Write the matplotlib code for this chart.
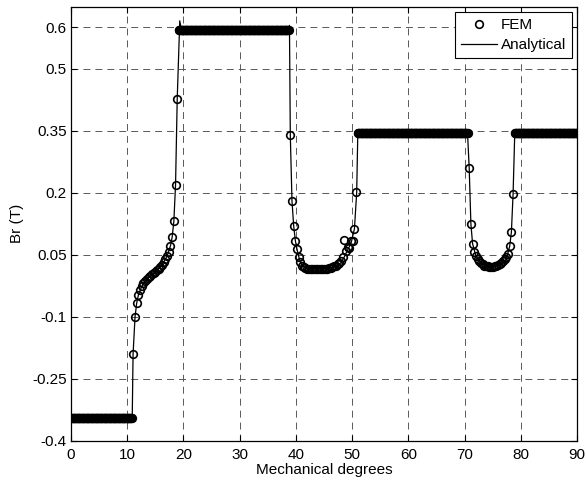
import numpy as np
import matplotlib
matplotlib.use("Agg")
import matplotlib.pyplot as plt

plt.rcParams['font.family'] = ['Liberation Sans', 'DejaVu Sans']
plt.rcParams['font.size'] = 11
plt.rcParams['lines.scale_dashes'] = False

# FEM plateaus are flat at the read level (dense samples)
plateau_start = [0.0, 19.2, 51.0, 78.9]
plateau_end = [10.8, 38.7, 70.5, 90.0]
plateau_level = [-0.345, 0.595, 0.345, 0.345]

# FEM transition points (deg, Br)
trans_deg = [11.1, 11.4, 11.7, 12.0, 12.3, 12.6, 12.9, 13.2, 13.5, 13.8, 14.1, 14.4,
             14.7, 15.0, 15.3, 15.6, 15.9, 16.2, 16.5, 16.8, 17.1, 17.4, 17.7, 18.0,
             18.3, 18.6, 18.9,
             39.0, 39.3, 39.6, 39.9, 40.2, 40.5, 40.8, 41.1, 41.4, 41.7, 42.0, 42.3,
             42.6, 42.9, 43.2, 43.5, 43.8, 44.1, 44.4, 44.7, 45.0, 45.3, 45.6, 45.9,
             46.2, 46.5, 46.8, 47.1, 47.4, 47.7, 48.0, 48.3, 48.6, 48.9, 49.2, 49.5,
             49.8, 50.1, 50.4, 50.7,
             70.8, 71.1, 71.4, 71.7, 72.0, 72.3, 72.6, 72.9, 73.2, 73.5, 73.8, 74.1,
             74.4, 74.7, 75.0, 75.3, 75.6, 75.9, 76.2, 76.5, 76.8, 77.1, 77.4, 77.7,
             78.0, 78.3, 78.6]
trans_br = [-0.19, -0.10, -0.066, -0.047, -0.035, -0.026, -0.019, -0.013, -0.008, -0.004, 0.0, 0.003,
            0.006, 0.009, 0.013, 0.017, 0.021, 0.026, 0.032, 0.039, 0.047, 0.058, 0.072, 0.093,
            0.131, 0.219, 0.428,
            0.339, 0.18, 0.12, 0.084, 0.063, 0.046, 0.032, 0.024, 0.020, 0.018, 0.017, 0.016,
            0.016, 0.016, 0.016, 0.016, 0.016, 0.016, 0.016, 0.016, 0.016, 0.017, 0.017, 0.018,
            0.019, 0.020, 0.022, 0.024, 0.027, 0.031, 0.036, 0.044, 0.085, 0.060, 0.070, 0.066,
            0.083, 0.083, 0.113, 0.201,
            0.26, 0.125, 0.077, 0.057, 0.047, 0.040, 0.034, 0.030, 0.027, 0.024, 0.023, 0.022,
            0.021, 0.021, 0.021, 0.022, 0.023, 0.025, 0.027, 0.030, 0.035, 0.040, 0.046, 0.053,
            0.071, 0.105, 0.197]

# Analytical curve vertices
ana_deg = [0, 10.9, 11.05, 11.4, 11.7, 12.0, 12.6, 13.5, 14.4, 15.3, 16.2, 17.1, 17.7,
           18.0, 18.3, 18.6, 18.9, 19.35, 19.6, 38.6, 38.85, 39.0, 39.3, 39.6, 39.9, 40.2,
           40.5, 40.8, 41.1, 41.7, 44.0, 46.5, 47.4, 48.0, 48.6, 49.2, 49.8, 50.4, 50.8,
           51.0, 70.5, 70.8, 71.1, 71.4, 72.0, 72.9, 74.7, 76.5, 77.4, 78.0, 78.3, 78.6,
           78.9, 90]
ana_br = [-0.345, -0.345, -0.19, -0.10, -0.066, -0.047, -0.026, -0.008, 0.003, 0.013, 0.026,
          0.047, 0.072, 0.093, 0.131, 0.219, 0.428, 0.616, 0.597, 0.597, 0.605, 0.339, 0.18,
          0.12, 0.084, 0.063, 0.046, 0.032, 0.024, 0.018, 0.016, 0.019, 0.024, 0.031, 0.045,
          0.062, 0.078, 0.113, 0.201, 0.345, 0.345, 0.26, 0.125, 0.077, 0.047, 0.030, 0.021,
          0.027, 0.040, 0.071, 0.105, 0.197, 0.345, 0.345]

yticks = [-0.4, -0.25, -0.1, 0.05, 0.2, 0.35, 0.5, 0.6]
ytick_labels = ['-0.4', '-0.25', '-0.1', '0.05', '0.2', '0.35', '0.5', '0.6']
xticks = [0, 10, 20, 30, 40, 50, 60, 70, 80, 90]

fem_deg = list(trans_deg)
fem_br = list(trans_br)
for s, e, lev in zip(plateau_start, plateau_end, plateau_level):
    pts = np.round(np.arange(s, e + 0.01, 0.1), 2)
    fem_deg += list(pts)
    fem_br += [lev] * len(pts)
order = np.argsort(fem_deg)
fem_deg = np.array(fem_deg)[order]
fem_br = np.array(fem_br)[order]

fig = plt.figure(figsize=(5.86, 4.84), dpi=100)
ax = fig.add_axes([0.121, 0.089, 0.864, 0.897])

ax.plot(fem_deg, fem_br, 'o', markersize=5.5, markerfacecolor='none',
        markeredgecolor='black', markeredgewidth=1.2, label='FEM')
ax.plot(ana_deg, ana_br, '-', color='black', linewidth=0.9, label='Analytical')

ax.set_xlim(0, 90)
ax.set_ylim(-0.4, 0.65)
ax.set_xticks(xticks)
ax.set_yticks(yticks)
ax.set_yticklabels(ytick_labels)
ax.tick_params(direction='in', length=4, top=True, right=True, labelsize=11)
ax.tick_params(axis='x', pad=5)
ax.tick_params(axis='y', pad=3)
ax.grid(True, color='0.35', linestyle=(0, (5, 3.6)), linewidth=0.7)
ax.set_axisbelow(True)
for sp in ax.spines.values():
    sp.set_linewidth(0.9)

ax.set_xlabel('Mechanical degrees', labelpad=1)
ax.set_ylabel('Br (T)', labelpad=6)

leg = ax.legend(loc='upper right', fancybox=False, edgecolor='black', framealpha=1,
                borderaxespad=0.35, handlelength=2.35, handletextpad=0.25,
                borderpad=0.4, labelspacing=0.4)
leg.get_frame().set_linewidth(0.8)

fig.savefig('out.png', dpi=100)
